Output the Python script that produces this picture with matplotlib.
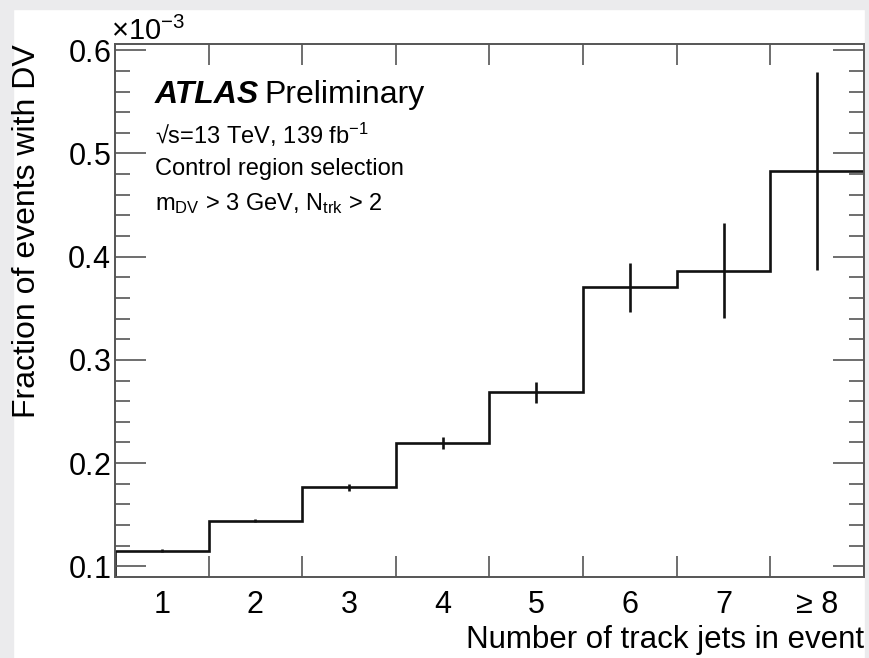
import numpy as np
import matplotlib
matplotlib.use("Agg")
import matplotlib.pyplot as plt
from matplotlib.patches import Rectangle
from matplotlib.ticker import MultipleLocator, FixedLocator, NullFormatter, FixedFormatter

plt.rcParams['font.family'] = ['Liberation Sans', 'DejaVu Sans']
plt.rcParams['mathtext.fontset'] = 'custom'
plt.rcParams['mathtext.rm'] = 'Liberation Sans'
plt.rcParams['mathtext.it'] = 'Liberation Sans:italic'
plt.rcParams['mathtext.bf'] = 'Liberation Sans:bold'

# fraction of events with a DV, per track-jet multiplicity bin
bin_labels = ['1', '2', '3', '4', '5', '6', '7', '≥ 8']
fraction = np.array([0.1152, 0.1442, 0.1764, 0.2193, 0.2687, 0.3704, 0.3865, 0.4831]) * 1e-3
fraction_err = np.array([0.0012, 0.0015, 0.0030, 0.0057, 0.0103, 0.0236, 0.0460, 0.0960]) * 1e-3

edges = np.arange(len(fraction) + 1) + 0.5
centers = np.arange(len(fraction)) + 1.0

fig = plt.figure(figsize=(8.69, 6.58), dpi=100)
ax = fig.add_axes([0.1323, 0.1231, 0.8619, 0.81])

col = '#111111'
ax.stairs(fraction, edges, color=col, lw=1.9)
ax.errorbar(centers, fraction, yerr=fraction_err, fmt='none', ecolor=col, elinewidth=1.9, capsize=0)

ax.set_xlim(0.5, 8.5)
ax.set_ylim(0.0897e-3, 0.606e-3)

# x: major ticks on bin edges, labels at bin centres
ax.xaxis.set_major_locator(FixedLocator(edges[1:-1]))
ax.xaxis.set_major_formatter(NullFormatter())
ax.xaxis.set_minor_locator(FixedLocator(centers))
ax.xaxis.set_minor_formatter(FixedFormatter(bin_labels))
ax.tick_params(axis='x', which='major', direction='in', length=15, width=1.2,
               top=True, bottom=True, color='#555555')
ax.tick_params(axis='x', which='minor', length=0, pad=9, labelsize=22)

ax.yaxis.set_major_locator(MultipleLocator(0.1e-3))
ax.yaxis.set_minor_locator(MultipleLocator(0.02e-3))
ax.ticklabel_format(axis='y', style='sci', scilimits=(-3, -3), useMathText=True)
ax.tick_params(axis='y', which='major', direction='in', length=22, width=1.2,
               left=True, right=True, labelsize=22, pad=3, color='#555555')
ax.tick_params(axis='y', which='minor', direction='in', length=11, width=1.2,
               left=True, right=True, color='#555555')
ot = ax.yaxis.get_offset_text()
ot.set_fontsize(21)
ot.set_x(-0.005)

for s in ax.spines.values():
    s.set_linewidth(1.4)
    s.set_color('#555555')

ax.set_xlabel('Number of track jets in event', fontsize=22.5, loc='right', labelpad=4)
ax.set_ylabel('Fraction of events with DV', fontsize=23, loc='top', labelpad=18)

ax.text(0.053, 0.905, 'ATLAS', transform=ax.transAxes, fontsize=23,
        fontweight='bold', fontstyle='italic', va='center')
ax.text(0.200, 0.905, 'Preliminary', transform=ax.transAxes, fontsize=23, va='center')
ax.text(0.053, 0.83, '√s=13 TeV, 139 fb$^{-1}$', transform=ax.transAxes, fontsize=17, va='center')
ax.text(0.053, 0.765, 'Control region selection', transform=ax.transAxes, fontsize=17, va='center')
ax.text(0.053, 0.70, 'm$_{\\rm DV}$ > 3 GeV, N$_{\\rm trk}$ > 2', transform=ax.transAxes,
        fontsize=17, va='center')

# light grey frame of the screenshot
grey = '#ebebed'
fig.add_artist(Rectangle((0, 0), 13 / 869, 1, transform=fig.transFigure, color=grey, zorder=-1))
fig.add_artist(Rectangle((0, 1 - 9 / 658), 1, 9 / 658, transform=fig.transFigure, color=grey, zorder=-1))
fig.add_artist(Rectangle((865 / 869, 0), 4 / 869, 1, transform=fig.transFigure, color=grey, zorder=-1))

fig.savefig('out.png', dpi=100)
